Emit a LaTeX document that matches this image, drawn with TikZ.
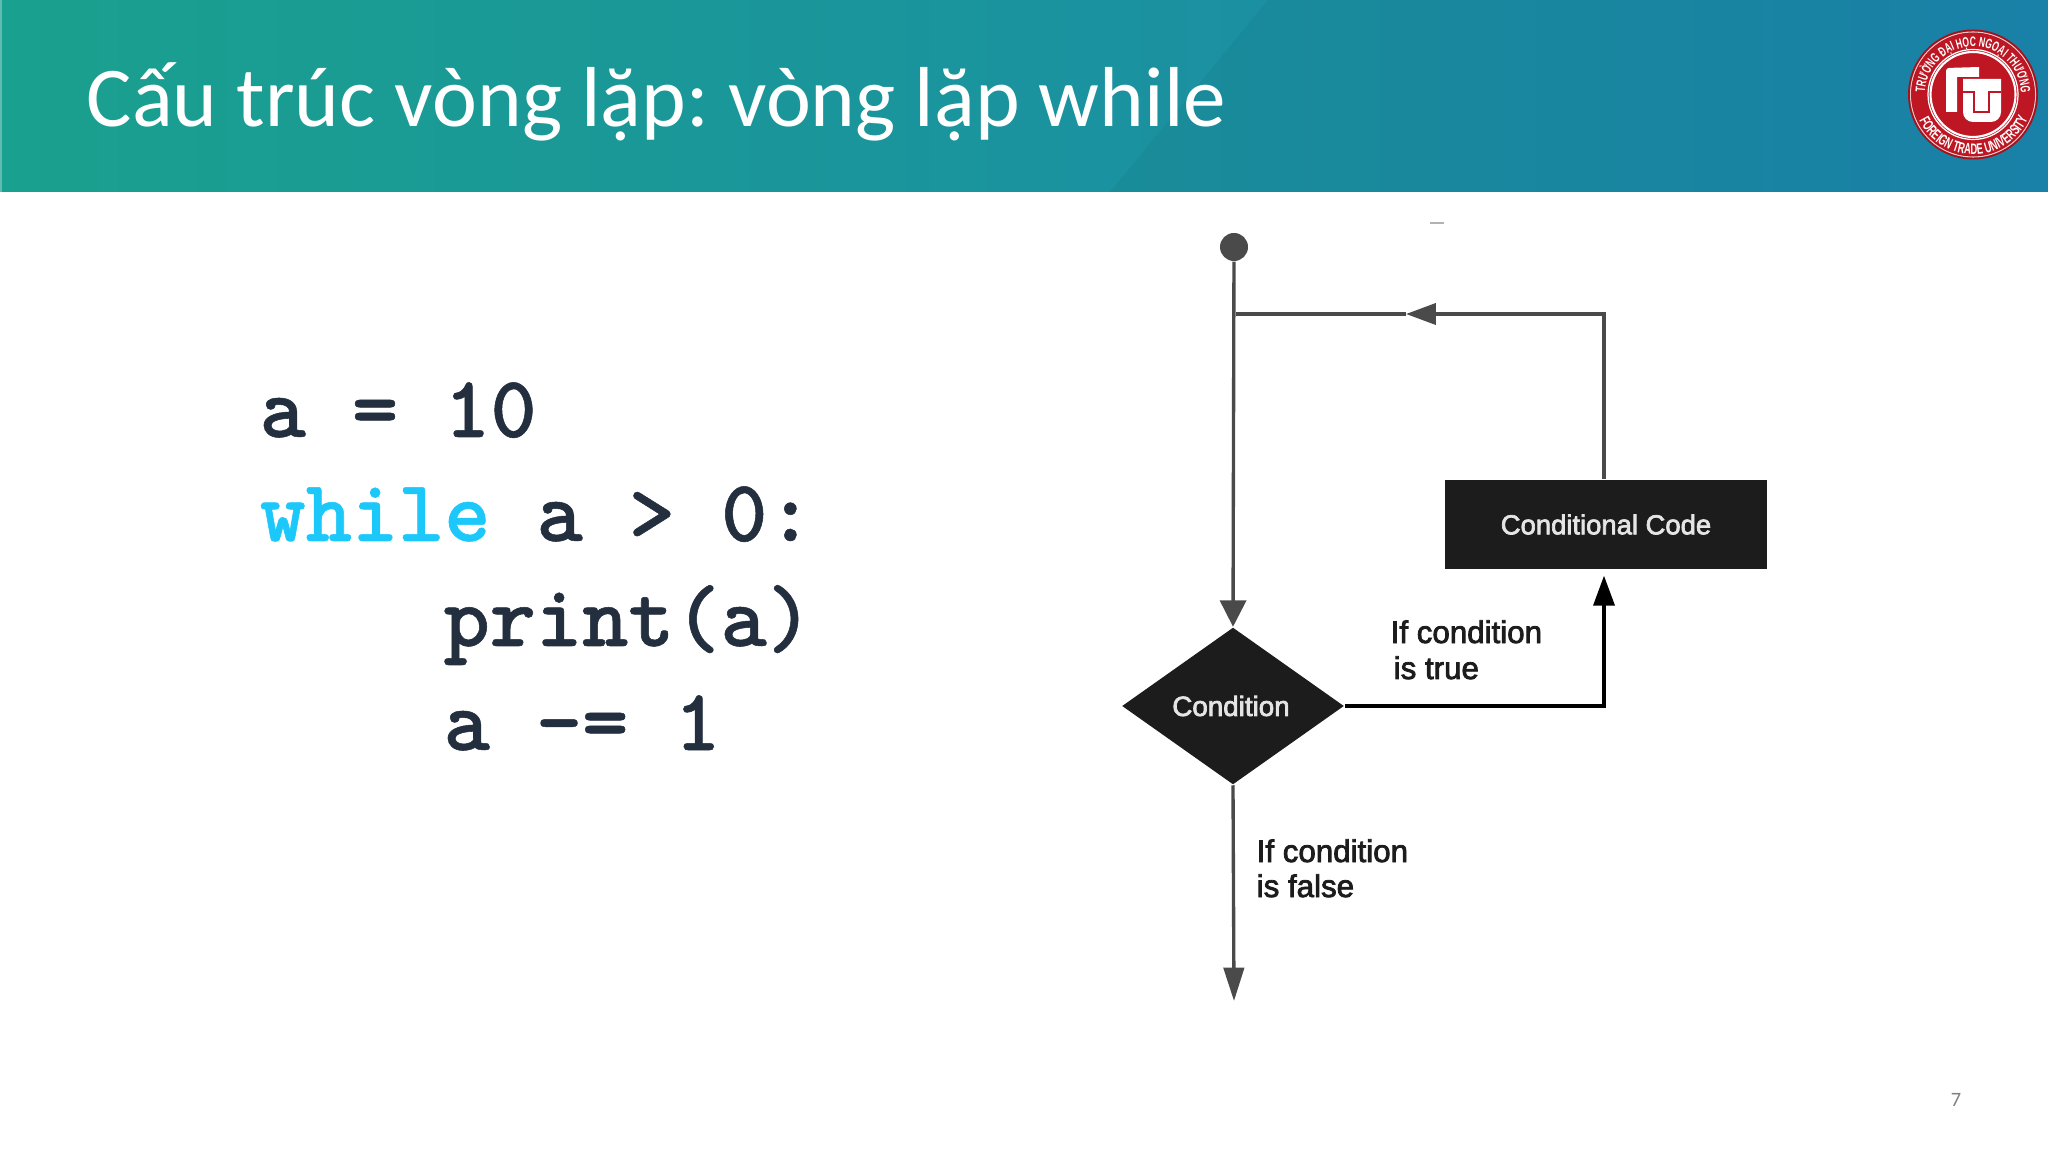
\documentclass[tikz,border=0pt]{standalone}
\usepackage{fontspec}
\usepackage{xcolor}
\setmainfont{Carlito}
\newfontfamily\codefont{Latin Modern Mono Light}[BoldFeatures={FakeBold=0.6}]
\newfontfamily\flowfont[FakeBold=2.5]{Liberation Sans}
\newfontfamily\sealfont[FakeStretch=0.62]{Liberation Sans}
\usetikzlibrary{positioning,shapes.geometric,arrows.meta,decorations.text}
\definecolor{bandleft}{HTML}{1AA08E}
\definecolor{bandmid}{HTML}{1692A0}
\definecolor{bandright}{HTML}{1B86AE}
\definecolor{codeink}{HTML}{232F3E}
\definecolor{kwblue}{HTML}{1CC7FA}
\definecolor{sealred}{HTML}{BE1622}
\definecolor{flowdark}{HTML}{1C1C1C}
\definecolor{flowgray}{HTML}{4A4A4A}
\tikzset{
    titletext/.style = {anchor=base west, inner sep=0pt, text=white, font=\fontsize{24.2}{24.2}\selectfont},
    codeline/.style = {anchor=base west, inner sep=0pt, text=codeink, font=\fontsize{25}{25}\selectfont\codefont\bfseries},
    flowlabel/.style = {anchor=base west, inner sep=0pt, text=flowdark, font=\fontsize{8.9}{8.9}\selectfont\flowfont},
    startdot/.style = {circle, fill=flowgray, minimum size=.28cm, inner sep=0pt},
    condnode/.style = {diamond, fill=flowdark, aspect=1.42, minimum width=2.22cm, minimum height=1.57cm, inner sep=0pt, text=white!90!black, font=\fontsize{7.9}{7.9}\selectfont\flowfont},
    codenode/.style = {rectangle, fill=flowdark, minimum width=3.22cm, minimum height=.89cm, inner sep=0pt, text=white!90!black, font=\fontsize{7.8}{7.8}\selectfont\flowfont},
    flowline/.style = {draw=flowgray, line width=.95pt},
    flowarrow/.style = {flowline, -{Triangle[length=8.5pt,width=6pt]}},
    intoarrow/.style = {flowline, -{Triangle[length=7.5pt,width=7.4pt]}},
    outarrow/.style = {flowline, -{Triangle[length=9.5pt,width=5.8pt]}},
    truearrow/.style = {draw=black, line width=.9pt, -{Triangle[length=8.5pt,width=6pt]}}
}

\begin{document}
\begin{tikzpicture}[x=.01cm,y=-.01cm]
            \useasboundingbox (0,0) rectangle (2048,1152);
            \frenchspacing

            \shade[left color=bandleft, middle color=bandmid, right color=bandright] (0,0) rectangle (2048,192);
            \fill[black, opacity=.04] (1110,192) -- (1268,0) -- (2048,0) -- (2048,192) -- cycle;
            \fill[bandleft!70!white] (0,0) rectangle (2,192);
            \node[titletext] (title) at (86,127) {Cấu trúc vòng lặp: vòng lặp while};

            \fill[sealred!85!black] (1973,94.5) circle (65);
            \draw[white!75!sealred, line width=.3pt] (1973,94.5) circle (62.5);
            \fill[sealred] (1973,94.5) circle (61.5);
            \draw[white, line width=.35pt] (1973,94.5) circle (45);
            \draw[white, line width=.6pt] (1973,94.5) circle (42.5);
            \begin{scope}[shift={(1973,94.5)}, x=.01cm, y=.01cm]
                \path[decorate, decoration={text along path, text align={fit to path},
                    text={|\fontsize{3.9}{3.9}\selectfont\sealfont\bfseries\color{white}|TRƯỜNG ĐẠI HỌC NGOẠI THƯƠNG}}]
                    (178:48) arc (178:2:48);
                \path[decorate, decoration={text along path, text align={fit to path},
                    text={|\fontsize{4.3}{4.3}\selectfont\sealfont\bfseries\color{white}|FOREIGN TRADE UNIVERSITY}}]
                    (206:60) arc (206:334:60);
            \end{scope}
            \fill[white] (1946,112) -- (1957,112) -- (1957,77) -- (1979,77) -- (1979,67) [rounded corners=.03cm] -- (1946,68) [sharp corners] -- cycle;
            \fill[white] (1963,79) -- (2001,79) [rounded corners=.1cm] -- (2001,122) -- (1963,122) [sharp corners] -- cycle;
            \draw[sealred, line width=.8pt] (1963,92) -- (1974,92) -- (1974,112) -- (1989,112) -- (1989,92) -- (2001,92);

            \node[codeline] (init) at (259,437) {a = 10};
            \node[codeline] (test) at (259,541) {\textcolor{kwblue}{while} a > 0:};
            \node[codeline] (show) at (443,646) {print(a)};
            \node[codeline] (step) at (443,750) {a -= 1};

            \node[startdot] (start) at (1234,247) {};
            \node[condnode] (cond) at (1233,706) {\hspace{-.04cm}Condition};
            \node[codenode] (code) at (1606,524.5) {Conditional Code};
            \coordinate (join) at (1236,314);
            \coordinate (loopmid) at (1406,314);
            \coordinate (exit) at (1234,1001);
            \node[fill=gray!60, minimum width=.14cm, minimum height=.02cm, inner sep=0pt] (speck) at (1437,223) {};

            \node[flowlabel] (trueone) at (1390,643) {If condition};
            \node[flowlabel] (truetwo) at (1393,679) {is true};
            \node[flowlabel] (falseone) at (1256,862) {If condition};
            \node[flowlabel] (falsetwo) at (1256,897) {is false};

            \draw[intoarrow] (start) -- (cond.north);
            \draw[flowarrow] ([xshift=-.02cm]code.north) |- (loopmid);
            \draw[flowline] (loopmid) -- (join);
            \draw[truearrow, shorten >=1.7pt] (cond.east) -| ([xshift=-.02cm]code.south);
            \draw[outarrow] (cond.south) -- (exit);

            \node[anchor=base, inner sep=0pt, text=gray, font=\fontsize{5.8}{5.8}\selectfont] (pagenum) at (1956,1106) {7};
\end{tikzpicture}
\end{document}
